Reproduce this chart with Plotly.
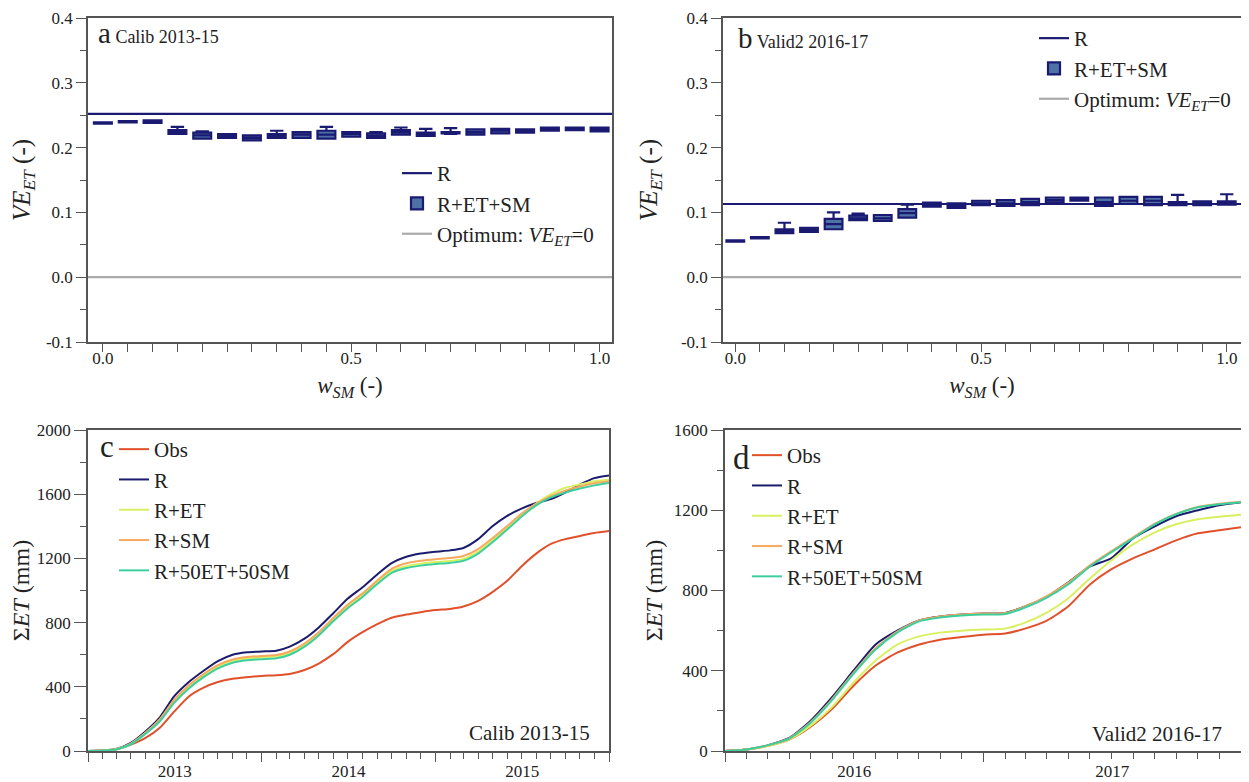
import plotly.graph_objects as go
import pandas as pd

# ---------------- data: panels a & b (VE_ET vs w_SM) ----------------
w_sm = [0.0, 0.05, 0.10, 0.15, 0.20, 0.25, 0.30, 0.35, 0.40, 0.45, 0.50,
        0.55, 0.60, 0.65, 0.70, 0.75, 0.80, 0.85, 0.90, 0.95, 1.00]

a_R = 0.252
a_q1 = [0.237, 0.239, 0.238, 0.221, 0.214, 0.215, 0.211, 0.215, 0.215, 0.214, 0.217,
        0.215, 0.220, 0.218, 0.222, 0.220, 0.222, 0.223, 0.226, 0.227, 0.225]
a_med = [0.238, 0.240, 0.240, 0.224, 0.219, 0.218, 0.215, 0.218, 0.220, 0.220, 0.221,
         0.218, 0.224, 0.220, 0.223, 0.224, 0.226, 0.226, 0.229, 0.229, 0.228]
a_q3 = [0.239, 0.241, 0.242, 0.227, 0.223, 0.221, 0.219, 0.221, 0.224, 0.226, 0.224,
        0.222, 0.227, 0.223, 0.224, 0.228, 0.229, 0.228, 0.231, 0.231, 0.231]
a_lo = [0.237, 0.239, 0.238, 0.221, 0.214, 0.215, 0.211, 0.215, 0.215, 0.214, 0.217,
        0.215, 0.220, 0.218, 0.221, 0.220, 0.222, 0.223, 0.226, 0.227, 0.225]
a_hi = [0.239, 0.241, 0.242, 0.232, 0.225, 0.221, 0.219, 0.226, 0.224, 0.232, 0.224,
        0.224, 0.231, 0.229, 0.230, 0.228, 0.229, 0.228, 0.231, 0.231, 0.231]

b_R = 0.113
b_q1 = [0.055, 0.060, 0.068, 0.070, 0.074, 0.088, 0.087, 0.092, 0.109, 0.107, 0.111,
        0.110, 0.111, 0.115, 0.118, 0.110, 0.113, 0.111, 0.111, 0.111, 0.112]
b_med = [0.056, 0.061, 0.071, 0.073, 0.082, 0.091, 0.091, 0.099, 0.112, 0.110, 0.114,
         0.114, 0.116, 0.119, 0.120, 0.116, 0.118, 0.118, 0.113, 0.114, 0.114]
b_q3 = [0.057, 0.062, 0.074, 0.076, 0.090, 0.095, 0.096, 0.105, 0.115, 0.114, 0.118,
        0.119, 0.121, 0.123, 0.123, 0.123, 0.124, 0.124, 0.116, 0.117, 0.117]
b_lo = [0.055, 0.060, 0.068, 0.070, 0.074, 0.088, 0.087, 0.092, 0.109, 0.107, 0.111,
        0.110, 0.111, 0.115, 0.118, 0.110, 0.113, 0.111, 0.111, 0.111, 0.112]
b_hi = [0.057, 0.062, 0.084, 0.076, 0.100, 0.098, 0.096, 0.112, 0.115, 0.114, 0.118,
        0.119, 0.121, 0.123, 0.123, 0.123, 0.124, 0.124, 0.127, 0.117, 0.128]

optimum = 0.0
ve_ticks = [-0.1, 0.0, 0.1, 0.2, 0.3, 0.4]
ve_ticktext = ["-0.1", "0.0", "0.1", "0.2", "0.3", "0.4"]
w_ticks = [0.0, 0.5, 1.0]
w_ticktext = ["0.0", "0.5", "1.0"]

# ---------------- data: panel c (Calib 2013-15), monthly cumulative ET (mm) ----------------
c_dates = pd.date_range("2013-01-01", periods=37, freq="MS").strftime("%Y-%m-%d").tolist()
c_obs = [0, 3, 10, 40, 80, 145, 245, 340, 395, 430, 450, 460,
         468, 472, 480, 505, 545, 605, 680, 740, 790, 830, 850, 865,
         878, 885, 900, 935, 990, 1060, 1150, 1230, 1290, 1320, 1340, 1358, 1370]
c_R = [0, 3, 12, 50, 120, 210, 340, 430, 500, 560, 600, 615,
       620, 625, 650, 700, 770, 860, 950, 1020, 1100, 1170, 1210, 1230,
       1242, 1250, 1265, 1320, 1400, 1465, 1510, 1545, 1570, 1610, 1660, 1700, 1717]
c_RET = [0, 3, 11, 45, 110, 195, 312, 402, 472, 527, 562, 577,
         584, 590, 612, 662, 732, 822, 902, 972, 1052, 1122, 1152, 1167,
         1177, 1184, 1197, 1242, 1312, 1392, 1472, 1542, 1600, 1640, 1660, 1680, 1690]
c_RSM = [0, 3, 11, 46, 112, 198, 318, 410, 480, 535, 570, 585,
         592, 598, 620, 670, 740, 830, 912, 982, 1062, 1135, 1170, 1185,
         1195, 1202, 1215, 1258, 1325, 1402, 1478, 1540, 1588, 1622, 1648, 1668, 1680]
c_RETSM = [0, 3, 10, 42, 105, 185, 300, 390, 460, 515, 550, 565,
           572, 578, 600, 650, 720, 810, 890, 960, 1040, 1110, 1140, 1155,
           1165, 1172, 1185, 1230, 1300, 1380, 1460, 1530, 1580, 1610, 1635, 1655, 1670]

# ---------------- data: panel d (Valid2 2016-17) ----------------
d_dates = pd.date_range("2016-01-01", periods=25, freq="MS").strftime("%Y-%m-%d").tolist()
d_obs = [0, 8, 25, 57, 120, 210, 325, 425, 490, 530, 555, 568,
         580, 586, 610, 650, 720, 830, 905, 960, 1005, 1050, 1085, 1100, 1115]
d_R = [0, 8, 28, 65, 150, 270, 400, 530, 600, 650, 670, 680,
       685, 688, 720, 770, 840, 920, 960, 1060, 1120, 1170, 1200, 1225, 1240]
d_RET = [0, 8, 25, 58, 125, 220, 340, 450, 530, 570, 590, 600,
         605, 610, 640, 690, 760, 860, 950, 1030, 1090, 1130, 1155, 1168, 1178]
d_RSM = [0, 8, 28, 63, 143, 260, 390, 512, 595, 650, 670, 680,
         685, 688, 720, 772, 838, 925, 995, 1065, 1133, 1182, 1216, 1232, 1242]
d_RETSM = [0, 8, 28, 62, 140, 255, 385, 505, 590, 645, 665, 675,
           680, 683, 715, 765, 830, 920, 990, 1060, 1130, 1180, 1215, 1230, 1240]

series_names = ["Obs", "R", "R+ET", "R+SM", "R+50ET+50SM"]
series_colors = ["#e0502a", "#1c1c6e", "#d8f060", "#f7a860", "#3ccf9c"]

# ---------------- styling ----------------
FONT = "Liberation Serif, Times New Roman, DejaVu Serif, serif"
NAVY = "#1a1a72"
BOXFILL = "#4f72a6"
GRAY = "#aaaaaa"
AXC = "#555555"
TXT = "#222222"
OFF = 8                 # page body margin
W, H = 1249 - OFF, 800  # figure runs past the bottom of the window, like the reference


def px_x(p):
    return (p - OFF) / W


def px_y(p):
    return 1 - (p - OFF) / H


fig = go.Figure()

# ---- panels a, b ----
for (xa, ya, leg, Rv, q1, med, q3, lo, hi, xr) in [
    ("x", "y", "legend", a_R, a_q1, a_med, a_q3, a_lo, a_hi, [-0.03, 1.025]),
    ("x2", "y2", "legend2", b_R, b_q1, b_med, b_q3, b_lo, b_hi, [-0.025, 1.029]),
]:
    fig.add_trace(go.Scatter(x=xr, y=[optimum, optimum], mode="lines",
                             line=dict(color=GRAY, width=2.2),
                             name="Optimum: <i>VE</i><sub><i>ET</i></sub>=0",
                             xaxis=xa, yaxis=ya, legend=leg, legendrank=3,
                             legendgroup=leg + "opt", hoverinfo="skip"))
    fig.add_trace(go.Scatter(x=xr, y=[Rv, Rv], mode="lines",
                             line=dict(color=NAVY, width=2.2),
                             name="R", xaxis=xa, yaxis=ya, legend=leg, legendrank=1,
                             legendgroup=leg + "R", hoverinfo="skip"))
    fig.add_trace(go.Box(x=w_sm, q1=q1, median=med, q3=q3, lowerfence=lo, upperfence=hi,
                         width=0.036, whiskerwidth=0.75,
                         fillcolor=BOXFILL, line=dict(color=NAVY, width=2.2),
                         name="R+ET+SM", xaxis=xa, yaxis=ya, legend=leg, legendrank=2,
                         legendgroup=leg + "box", boxpoints=False))

# ---- panels c, d ----
for (xa, ya, leg, dates, ser) in [
    ("x3", "y3", "legend3", c_dates, [c_obs, c_R, c_RET, c_RSM, c_RETSM]),
    ("x4", "y4", "legend4", d_dates, [d_obs, d_R, d_RET, d_RSM, d_RETSM]),
]:
    for i, (nm, col, vals) in enumerate(zip(series_names, series_colors, ser)):
        fig.add_trace(go.Scatter(x=dates, y=vals, mode="lines", name=nm,
                                 line=dict(color=col, width=2, shape="spline", smoothing=0.6),
                                 xaxis=xa, yaxis=ya, legend=leg, legendrank=i + 1,
                                 legendgroup=leg + nm))

tickfont = dict(family=FONT, size=17, color=TXT)
common_axis = dict(showline=True, linecolor=AXC, linewidth=1.5, mirror=True,
                   showgrid=False, zeroline=False, ticks="outside", tickcolor=AXC,
                   tickfont=tickfont, automargin=False, ticklabeloverflow="allow")

ve_title = dict(text="<i>VE</i><sub><i>ET</i></sub> (-)",
                font=dict(family=FONT, size=25, color=TXT), standoff=16)
w_title = dict(text="<i>w</i><sub><i>SM</i></sub> (-)",
               font=dict(family=FONT, size=23, color=TXT), standoff=10)
et_title = dict(text="Σ<i>ET</i> (mm)", font=dict(family=FONT, size=24, color=TXT), standoff=4)

layout = dict(
    template="none",
    width=W, height=H,
    margin=dict(l=0, r=0, t=0, b=0, pad=0),
    paper_bgcolor="white", plot_bgcolor="white",
    font=dict(family=FONT, size=17, color=TXT),
    showlegend=True,
    xaxis=dict(domain=[px_x(88), px_x(612)], anchor="y", range=[-0.03, 1.025],
               tickmode="array", tickvals=w_ticks, ticktext=w_ticktext, ticklen=8,
               ticklabelstandoff=-8,
               minor=dict(dtick=0.05, tick0=0, ticks="outside", ticklen=8, tickcolor=AXC),
               title=w_title, **common_axis),
    yaxis=dict(domain=[px_y(342), px_y(18)], anchor="x", range=[-0.1, 0.4],
               tickmode="array", tickvals=ve_ticks, ticktext=ve_ticktext, ticklen=10,
               minor=dict(dtick=0.05, tick0=0, ticks="outside", ticklen=6, tickcolor=AXC),
               title=ve_title, **common_axis),
    xaxis2=dict(domain=[px_x(723), px_x(1241)], anchor="y2", range=[-0.025, 1.029],
                tickmode="array", tickvals=w_ticks, ticktext=w_ticktext, ticklen=8,
                ticklabelstandoff=-8,
                minor=dict(dtick=0.05, tick0=0, ticks="outside", ticklen=8, tickcolor=AXC),
                title=w_title, **common_axis),
    yaxis2=dict(domain=[px_y(342), px_y(18)], anchor="x2", range=[-0.1, 0.4],
                tickmode="array", tickvals=ve_ticks, ticktext=ve_ticktext, ticklen=10,
                minor=dict(dtick=0.05, tick0=0, ticks="outside", ticklen=6, tickcolor=AXC),
                title=ve_title, **common_axis),
    xaxis3=dict(domain=[px_x(88), px_x(609)], anchor="y3", type="date",
                range=["2013-01-01", "2016-01-01"], dtick="M12", tick0="2013-01-01",
                tickformat="%Y", ticklabelmode="period", ticklen=9, ticklabelstandoff=-5,
                minor=dict(dtick="M1", ticks="outside", ticklen=6, tickcolor=AXC),
                **common_axis),
    yaxis3=dict(domain=[px_y(751), px_y(430)], anchor="x3", range=[0, 2000],
                dtick=400, ticklen=12,
                minor=dict(dtick=200, ticks="outside", ticklen=6, tickcolor=AXC),
                title=et_title, **common_axis),
    xaxis4=dict(domain=[px_x(725), px_x(1241)], anchor="y4", type="date",
                range=["2016-01-01", "2018-01-01"], dtick="M12", tick0="2016-01-01",
                tickformat="%Y", ticklabelmode="period", ticklen=9, ticklabelstandoff=-5,
                minor=dict(dtick="M1", ticks="outside", ticklen=6, tickcolor=AXC),
                **common_axis),
    yaxis4=dict(domain=[px_y(751), px_y(430)], anchor="x4", range=[0, 1600],
                dtick=400, ticklen=12,
                minor=dict(dtick=200, ticks="outside", ticklen=6, tickcolor=AXC),
                title=et_title, **common_axis),
)

legend_common = dict(bgcolor="rgba(0,0,0,0)", borderwidth=0,
                     font=dict(family=FONT, size=21, color=TXT),
                     xanchor="left", yanchor="top", traceorder="grouped")
layout["legend"] = dict(x=px_x(397), y=px_y(153), tracegroupgap=0, **legend_common)
layout["legend2"] = dict(x=px_x(1034), y=px_y(18), tracegroupgap=0, **legend_common)
layout["legend3"] = dict(x=px_x(114), y=px_y(429), tracegroupgap=0, **legend_common)
layout["legend4"] = dict(x=px_x(747), y=px_y(435), tracegroupgap=0, **legend_common)

fig.update_layout(**layout)

ann_font = dict(family=FONT, size=18, color=TXT)
annotations = [
    dict(x=px_x(96), y=px_y(33), text="<span style='font-size:29px'>a</span> Calib 2013-15"),
    dict(x=px_x(736), y=px_y(38), text="<span style='font-size:29px'>b</span> Valid2 2016-17"),
    dict(x=px_x(98), y=px_y(446), text="<span style='font-size:31px'>c</span>"),
    dict(x=px_x(731), y=px_y(458), text="<span style='font-size:33px'>d</span>"),
]
for a in annotations:
    fig.add_annotation(xref="paper", yref="paper", xanchor="left", yanchor="middle",
                       showarrow=False, font=ann_font, **a)
big_font = dict(family=FONT, size=21, color=TXT)
fig.add_annotation(xref="paper", yref="paper", x=px_x(592), y=px_y(733), xanchor="right",
                   yanchor="middle", showarrow=False, text="Calib 2013-15", font=big_font)
fig.add_annotation(xref="paper", yref="paper", x=px_x(1224), y=px_y(734), xanchor="right",
                   yanchor="middle", showarrow=False, text="Valid2 2016-17", font=big_font)

fig.write_html("out.html")
